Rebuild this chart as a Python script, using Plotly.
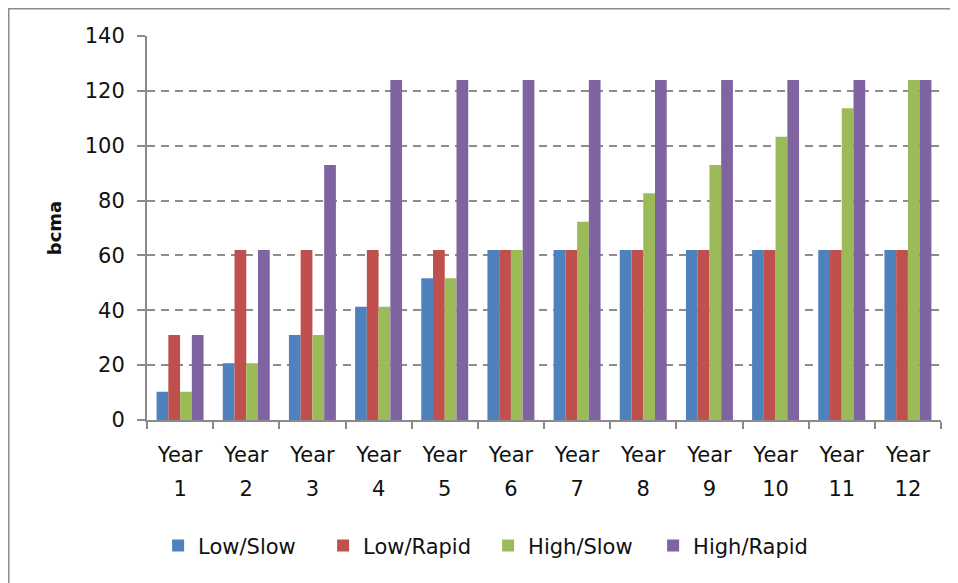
import plotly.graph_objects as go

categories = [f"Year {i}" for i in range(1, 13)]
year_word = "Year"
year_nums = [str(i) for i in range(1, 13)]

series_names = ["Low/Slow", "Low/Rapid", "High/Slow", "High/Rapid"]
low_slow = [10.3, 20.7, 31, 41.3, 51.7, 62, 62, 62, 62, 62, 62, 62]
low_rapid = [31, 62, 62, 62, 62, 62, 62, 62, 62, 62, 62, 62]
high_slow = [10.3, 20.7, 31, 41.3, 51.7, 62, 72.3, 82.7, 93, 103.3, 113.7, 124]
high_rapid = [31, 62, 93, 124, 124, 124, 124, 124, 124, 124, 124, 124]
colors = ["#4F81BD", "#C0504D", "#9BBB59", "#8064A2"]

y_ticks = [0, 20, 40, 60, 80, 100, 120, 140]

FONT = "DejaVu Sans"
fig = go.Figure()
for name, vals, col in zip(series_names, [low_slow, low_rapid, high_slow, high_rapid], colors):
    fig.add_trace(go.Bar(x=categories, y=vals, name=name, marker_color=col,
                         marker_line_width=0))

# helper invisible trace so the second (number) axis knows the categories
fig.add_trace(go.Scatter(x=categories, y=[0] * len(categories), xaxis="x2", mode="none",
                         showlegend=False, hoverinfo="skip"))

axis_col = "#8a8a8a"
PW, PH = 794, 384
fig.update_layout(
    width=950, height=575,
    margin=dict(l=139, r=17, t=28, b=163),
    paper_bgcolor="white", plot_bgcolor="white",
    barmode="group", bargap=0.29, bargroupgap=0,
    font=dict(family=FONT, size=20, color="#111"),
    xaxis=dict(type="category", categoryarray=categories, range=[-0.5, 11.5],
               tickvals=categories, ticktext=[year_word] * len(categories),
               showline=True, linecolor=axis_col, linewidth=2,
               ticks="outside", tickson="boundaries", ticklen=7, tickcolor=axis_col, tickwidth=2,
               showgrid=False, tickfont=dict(size=21), ticklabelstandoff=15),
    xaxis2=dict(type="category", categoryarray=categories, range=[-0.5, 11.5],
                overlaying="x", anchor="y", side="bottom",
                tickvals=categories, ticktext=year_nums,
                showline=False, ticks="", showgrid=False,
                tickfont=dict(size=21), ticklabelstandoff=54),
    yaxis=dict(range=[0, 140], tickvals=y_ticks, showline=True, linecolor=axis_col, linewidth=2,
               ticks="outside", ticklen=8, tickcolor=axis_col, tickwidth=2,
               showgrid=True, gridcolor="#8c8c8c", gridwidth=2, griddash="8px,6px",
               zeroline=False, tickfont=dict(size=21), ticklabelstandoff=8,
               title=dict(text="<b>bcma</b>", font=dict(size=18), standoff=18)),
    legend=dict(orientation="h", x=0.014, xanchor="left", y=-0.328, yanchor="middle",
                font=dict(size=21), entrywidth=120, traceorder="normal"),
    showlegend=True,
    shapes=[dict(type="rect", xref="paper", yref="paper",
                 x0=(0.5 - 139) / PW, x1=(960 - 139) / PW,
                 y0=(PH + 28 - 600) / PH, y1=(PH + 28 - 0.5) / PH,
                 line=dict(color="#8c8c8c", width=2), fillcolor="rgba(0,0,0,0)", layer="below")],
)

fig.write_html("out.html")
